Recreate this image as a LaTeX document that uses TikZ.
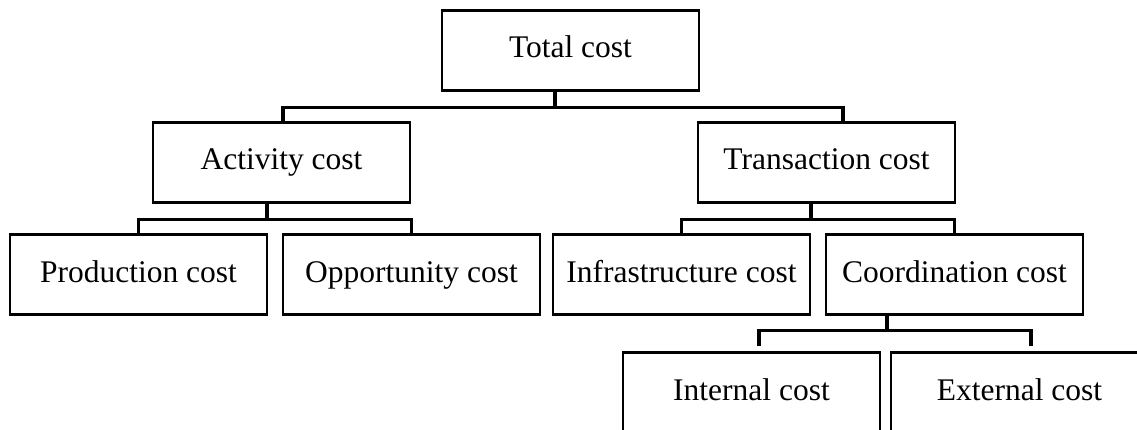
\documentclass[tikz,border=0pt]{standalone}
\usepackage{fontspec}
\setmainfont{Liberation Serif}
\begin{document}
\begin{tikzpicture}[x=1pt, y=-1pt,
    costbox/.style={draw, line width=2.6pt, minimum width=257pt, minimum height=80pt,
      inner sep=0pt, text height=22pt, text depth=7pt, font=\fontsize{31.5}{36}\selectfont},
    link/.style={line width=3.2pt}]
  % page frame
  \useasboundingbox (0,0) rectangle (1137,430);
  \clip (0,0) rectangle (1137,430);

  % boxes
  \node[costbox] (total) at (570.5,50.5) {Total cost};
  \node[costbox] (act)   at (281.5,162.5) {Activity cost};
  \node[costbox] (trans) at (826.5,162.5) {Transaction cost};
  \node[costbox] (prod)  at (138.5,274.5) {Production cost};
  \node[costbox] (opp)   at (411.5,274.5) {Opportunity cost};
  \node[costbox] (infra) at (681.5,274.5) {Infrastructure cost};
  \node[costbox] (coord) at (954.5,274.5) {Coordination cost};
  \node[costbox] (int)   at (751.5,392.5) {Internal cost};
  \node[costbox] (ext)   at (1019.5,392.5) {External cost};

  % connectors
  \draw[link] ([xshift=-15.5]total.south) -- ++(0,16) coordinate (tj);
  \draw[link] ([xshift=1.5]act.north) |- (tj) -| ([xshift=16.5]trans.north);

  \draw[link] ([xshift=-14.5]act.south) -- ++(0,16) coordinate (aj);
  \draw[link] (prod.north) |- (aj) -| (opp.north);

  \draw[link] ([xshift=-15.5]trans.south) -- ++(0,16) coordinate (rj);
  \draw[link] (infra.north) |- (rj) -| (coord.north);

  \draw[link] ([xshift=-67.5]coord.south) -- ++(0,15) coordinate (cj);
  \draw[link] ([xshift=7.5,yshift=5]int.north) |- (cj) -| ([xshift=11.5,yshift=5]ext.north);
\end{tikzpicture}
\end{document}
